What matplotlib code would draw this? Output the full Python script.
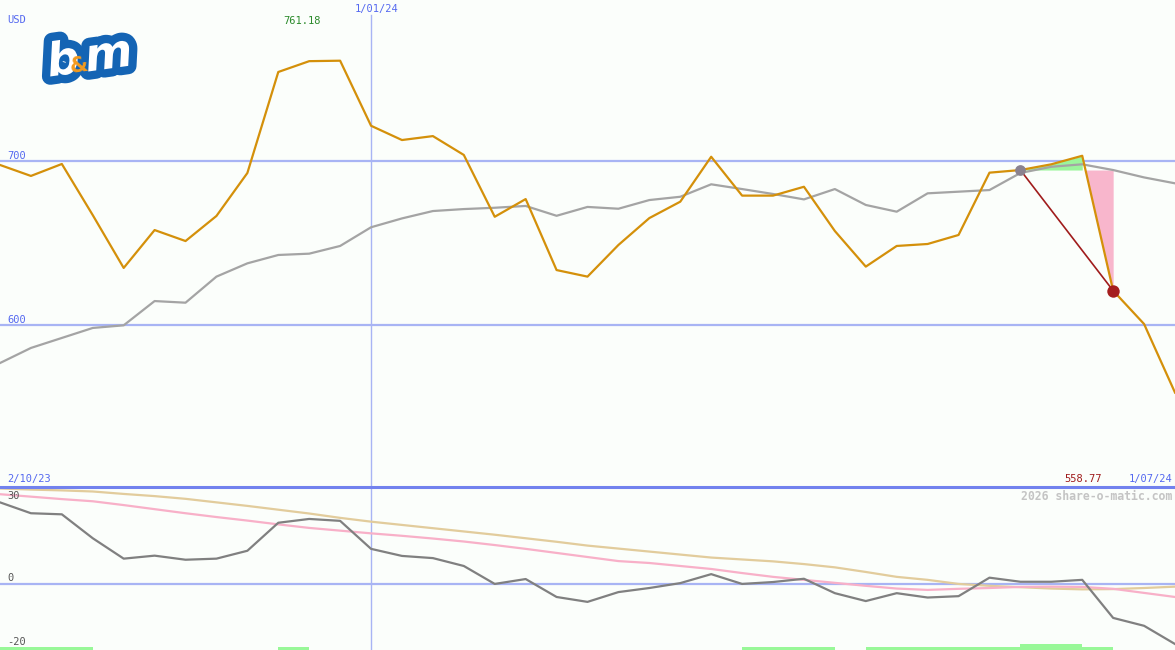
import matplotlib
matplotlib.use("Agg")
import matplotlib.pyplot as plt
import matplotlib.patheffects as pe
from matplotlib.lines import Line2D
import numpy as np

# weekly closes (index 0 = 2/10/23, index 38 = 1/07/24)
price = [697.6, 690.9, 698.2, 667.0, 634.8, 657.9, 651.2, 666.5, 692.7, 754.3,
         760.9, 761.18, 721.5, 712.8, 715.2, 703.7, 666.0, 676.8, 633.5, 629.5,
         648.8, 665.2, 675.2, 702.6, 678.9, 678.9, 684.3, 657.3, 635.6, 648.2,
         649.4, 654.9, 692.9, 694.5, 698.0, 703.2, 620.9, 600.6, 558.77]
avg = [576.8, 586.0, 592.1, 598.2, 599.8, 614.6, 613.6, 629.5, 637.6, 642.7,
       643.5, 648.2, 659.6, 665.0, 669.5, 670.7, 671.5, 672.6, 666.6, 672.0,
       670.9, 676.2, 678.2, 685.8, 682.9, 679.9, 676.6, 682.9, 673.2, 669.1,
       680.3, 681.3, 682.3, 692.7, 696.5, 698.0, 694.5, 690.0, 686.4]
# lower panel oscillators
osc = [29.9, 25.9, 25.5, 16.7, 9.2, 10.3, 8.8, 9.2, 12.1, 22.4,
       23.8, 23.1, 12.8, 10.2, 9.4, 6.5, -0.1, 1.7, -4.9, -6.7,
       -3.1, -1.6, 0.2, 3.5, -0.1, 0.6, 1.8, -3.5, -6.4, -3.5,
       -5.1, -4.6, 2.2, 0.7, 0.7, 1.4, -12.6, -15.5, -22.2]
osc_fast = [32.9, 32.0, 31.1, 30.3, 28.9, 27.4, 25.9, 24.5, 23.2, 21.8,
            20.5, 19.5, 18.5, 17.6, 16.6, 15.5, 14.2, 12.8, 11.3, 9.8,
            8.3, 7.6, 6.5, 5.4, 3.9, 2.5, 1.4, 0.3, -0.8, -1.8,
            -2.3, -1.9, -1.6, -1.2, -1.1, -1.2, -1.9, -3.4, -4.9]
osc_slow = [35.0, 34.6, 34.3, 33.9, 33.0, 32.2, 31.2, 29.9, 28.6, 27.2,
            25.8, 24.2, 22.8, 21.6, 20.4, 19.2, 18.0, 16.7, 15.4, 14.0,
            12.9, 11.8, 10.7, 9.6, 8.9, 8.2, 7.2, 6.0, 4.3, 2.5,
            1.4, -0.1, -0.8, -1.3, -1.8, -2.1, -2.0, -1.6, -1.1]
# signal spans on the bottom strip: (start index, end index, level)
signals = [(0, 3, 1), (9, 10, 1), (24, 27, 1), (28, 36, 1), (33, 35, 2)]

entry_i, entry_v = 33, 694.5
exit_i, exit_v = 36, 620.9
year_line = 12

BG = "#fbfefb"
GRID = "#a8b4f4"
BLUE_TXT = "#5468f0"
MONO = "DejaVu Sans Mono"

W, H = 1175, 650
fig = plt.figure(figsize=(W / 100, H / 100), dpi=100, facecolor=BG)
split = 487
ax1 = fig.add_axes([0, 1 - split / H, 1, split / H])
ax2 = fig.add_axes([0, 0, 1, 1 - split / H])
for ax in (ax1, ax2):
    ax.set_facecolor(BG)
    ax.set_xlim(0, len(price) - 1)
    ax.axis("off")

x = np.arange(len(price))

# --- upper panel ---
ax1.set_ylim(501.2, 798.2)
for lvl in (700, 600):
    ax1.axhline(lvl, color=GRID, lw=1.6, zorder=1)
ax1.axvline(year_line, ymax=1 - 15 / split, color=GRID, lw=1, zorder=1)
ax1.plot(x, avg, color="#a4a4a4", lw=1.6, zorder=3)

# trade shading
xs = np.arange(entry_i, 36)
ax1.fill_between(xs, [entry_v] * len(xs), np.array(price)[xs], color="#9cf59c", zorder=2, lw=0)
xp = np.linspace(35, 36, 50)
yp = np.interp(xp, x, price)
ax1.fill_between(xp, yp, entry_v, where=yp < entry_v, color="#f8b6cc", zorder=2, lw=0)

ax1.plot(x, price, color="#d4900a", lw=1.6, zorder=4)
ax1.plot([entry_i, exit_i], [entry_v, exit_v], color="#a01c1c", lw=1.2, zorder=5)
ax1.scatter([entry_i], [entry_v], s=60, color="#8a8290", zorder=6, lw=0)
ax1.scatter([exit_i], [exit_v], s=80, color="#a51e1e", zorder=6, lw=0)

# --- lower panel ---
ax2.set_ylim(-24.4, 35.55)
ax2.axhline(0, color=GRID, lw=1.6, zorder=1)
ax2.axvline(year_line, color=GRID, lw=1, zorder=1)
ax2.plot(x, osc_slow, color="#e2cc9c", lw=1.6, zorder=2)
ax2.plot(x, osc_fast, color="#f8b0c8", lw=1.6, zorder=3)
ax2.plot(x, osc, color="#808080", lw=1.6, zorder=4)
tr = ax2.get_xaxis_transform()
for s, e, lvl in signals:
    ax2.fill_between([s, e], 0, lvl * 3 / 163, transform=tr, color="#98f898", lw=0, zorder=5)

fig.add_artist(Line2D([0, 1], [1 - split / H] * 2, color="#7282ee", lw=2.2, transform=fig.transFigure))


def label(px, py, s, color, ha="left", size=7.5, weight="normal"):
    fig.text(px / W, 1 - py / H, s, color=color, ha=ha, va="center",
             fontsize=size, family=MONO, weight=weight)


label(7, 20, "USD", BLUE_TXT)
label(283, 21, "761.18", "#2a8a2a")
label(355, 9, "1/01/24", BLUE_TXT)
label(7, 156, "700", BLUE_TXT)
label(7, 320, "600", BLUE_TXT)
label(7, 479, "2/10/23", BLUE_TXT)
label(1102, 479, "558.77", "#a01c1c", ha="right")
label(1172, 479, "1/07/24", BLUE_TXT, ha="right")
label(1172, 496, "2026 share-o-matic.com", "#c4c4c4", ha="right", size=8.3, weight="bold")
label(7, 496, "30", "#555555")
label(7, 578, "0", "#555555")
label(7, 642, "-20", "#555555")

# logo: white letters in a thick blue outline, orange ampersand
LOGO_BLUE = "#1464b4"
logo_fx = [pe.Stroke(linewidth=12, foreground=LOGO_BLUE), pe.Normal()]
fig.text(44 / W, 1 - 62 / H, "b", fontsize=33, weight="bold", style="italic", color="white",
         va="center", ha="left", path_effects=logo_fx, rotation=8)
fig.text(82 / W, 1 - 56 / H, "m", fontsize=33, weight="bold", style="italic", color="white",
         va="center", ha="left", path_effects=logo_fx, rotation=8)
fig.text(69 / W, 1 - 66 / H, "&", fontsize=15, weight="bold", color="#f39a1e",
         va="center", ha="left", rotation=8)

fig.savefig("out.png", dpi=100, facecolor=BG)
